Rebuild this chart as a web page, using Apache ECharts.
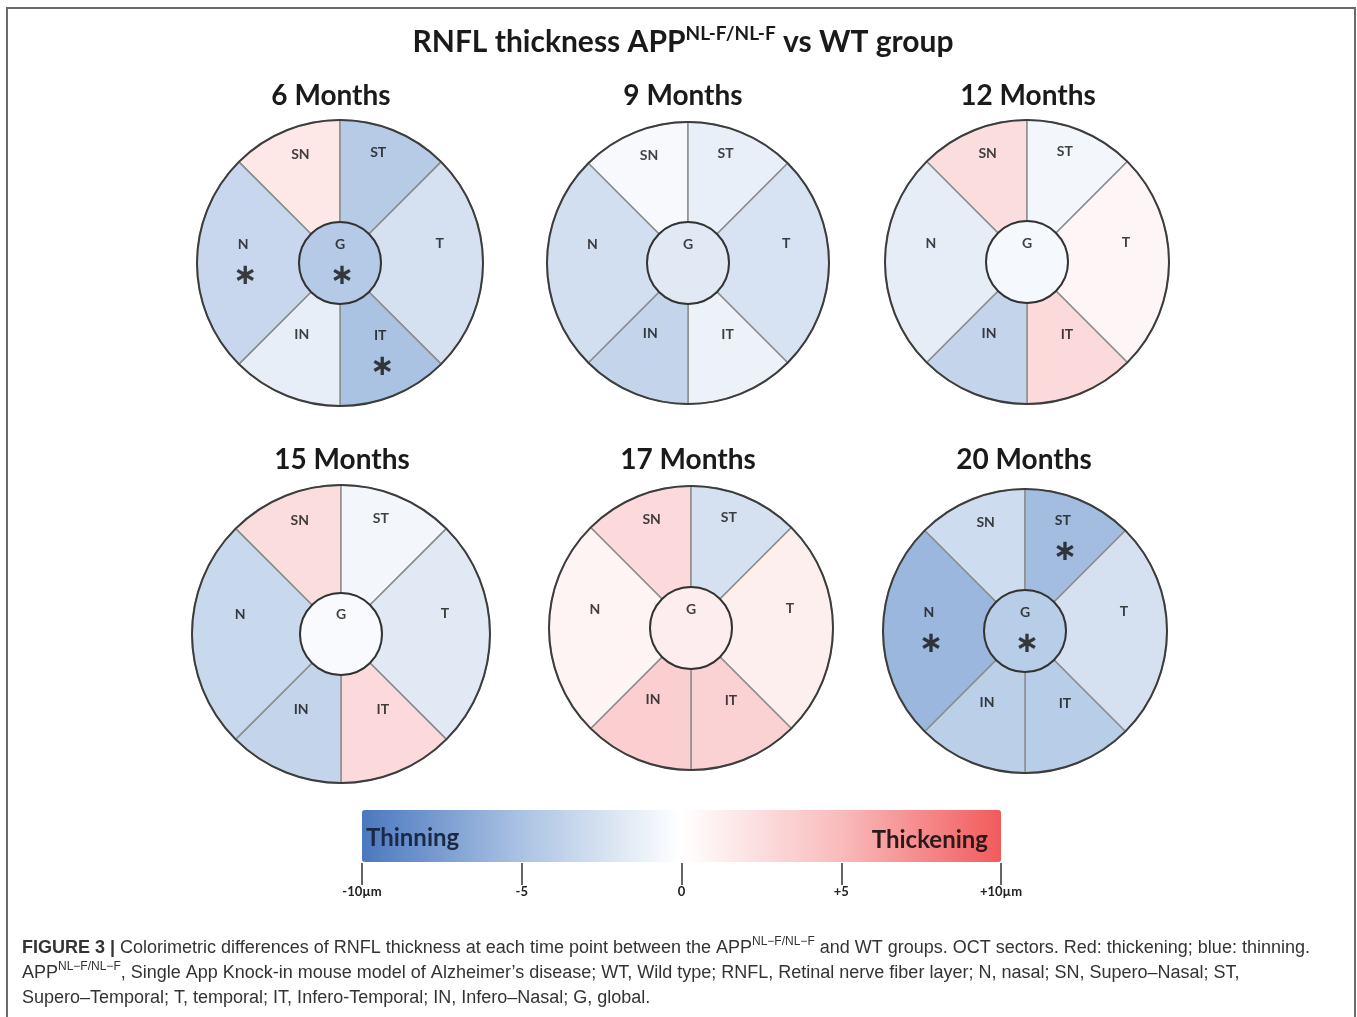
<!DOCTYPE html>
<html>
<head>
<meta charset="utf-8">
<script src="https://cdn.jsdelivr.net/npm/echarts@6/dist/echarts.min.js"></script>
<style>
  html, body { margin: 0; padding: 0; background: #fff; }
  #chart { width: 1357px; height: 1017px; }
</style>
</head>
<body>
<div id="chart"></div>
<script>
// OCT sectors, clockwise from the upper-left
const sectors = ['SN', 'ST', 'T', 'IT', 'IN', 'N'];
const months = ['6 Months', '9 Months', '12 Months', '15 Months', '17 Months', '20 Months'];

// RNFL thickness difference APP vs WT (µm), same order as sectors
const diff6 = [1.8, -4.3, -2.5, -5.0, -1.4, -3.3];
const diff9 = [-0.5, -1.3, -2.4, -1.1, -3.6, -2.7];
const diff12 = [2.5, -0.7, 0.7, 2.7, -3.6, -1.5];
const diff15 = [2.5, -0.7, -1.8, 2.7, -3.6, -3.2];
const diff17 = [2.7, -2.5, 1.2, 3.3, 3.5, 0.8];
const diff20 = [-2.9, -5.4, -2.5, -4.2, -4.0, -5.8];
// global (G) per time point
const globalDiff = [-4.4, -1.8, -0.6, -0.4, 1.3, -4.2];

// significant sectors (asterisk)
const sig6 = ['N', 'IT', 'G'];
const sig9 = [];
const sig12 = [];
const sig15 = [];
const sig17 = [];
const sig20 = ['ST', 'N', 'G'];

const scaleTicks = [-10, -5, 0, 5, 10];
const scaleTickLabels = ['-10µm', '-5', '0', '+5', '+10µm'];

const diffs = [diff6, diff9, diff12, diff15, diff17, diff20];
const sigs = [sig6, sig9, sig12, sig15, sig17, sig20];

// layout
const centers = [[340, 263], [688, 263], [1027, 262], [341, 634], [691, 628], [1025, 631]];
const radii = [143, 141, 142, 149, 142, 142];
const innerR = 41;
const titlePos = [[331, 96], [683, 96], [1028, 96], [342, 460], [688, 460], [1024, 460]];
const span = { SN: 45, ST: 45, T: 90, IT: 45, IN: 45, N: 90 };
// label anchors as [radius fraction, angle in degrees ccw from 3 o'clock]
const labelAt = {
  SN: [0.81, 110], ST: [0.82, 71], T: [0.71, 11], IT: [0.58, 299],
  IN: [0.57, 242], N: [0.69, 169], G: [0.13, 90]
};
const scaleColors = ['#4a78bf', '#abc3e3', '#ffffff', '#f9bbbc', '#f25a5c'];

const FONT = 'Lato';
const chart = echarts.init(document.getElementById('chart'));

const series = [];
const polar = [];
const angleAxis = [];
const radiusAxis = [];
const colored = [];
const title = [];

title.push({
  text: '{m|RNFL thickness APP}{s|NL-F/NL-F}{m| vs WT group}',
  left: 683, top: 42, padding: 0,
  textAlign: 'center', textVerticalAlign: 'middle',
  textStyle: {
    rich: {
      m: { fontFamily: FONT, fontWeight: 'bold', fontSize: 30, color: '#1a1a1a', lineHeight: 36 },
      s: { fontFamily: FONT, fontWeight: 'bold', fontSize: 19, color: '#1a1a1a', lineHeight: 22, verticalAlign: 'top' }
    }
  }
});

months.forEach((m, i) => {
  const center = centers[i];
  title.push({
    text: m, left: titlePos[i][0], top: titlePos[i][1], padding: 0,
    textAlign: 'center', textVerticalAlign: 'middle',
    textStyle: { fontFamily: FONT, fontWeight: 'bold', fontSize: 28, color: '#1a1a1a' }
  });

  colored.push(series.length);
  series.push({
    type: 'pie', center, radius: [innerR, radii[i]],
    startAngle: 135, clockwise: true, silent: true, animation: false,
    label: { show: false }, labelLine: { show: false },
    itemStyle: { borderColor: '#8d8d8d', borderWidth: 1.5 },
    data: sectors.map((s, k) => ({ name: s, value: [span[s], diffs[i][k]] }))
  });

  colored.push(series.length);
  series.push({
    type: 'pie', center, radius: [0, innerR], silent: true, animation: false, z: 3,
    label: { show: false }, labelLine: { show: false },
    itemStyle: { borderColor: '#333', borderWidth: 2 },
    data: [{ name: 'G', value: [360, globalDiff[i]] }]
  });

  // outer rim
  series.push({
    type: 'pie', center, radius: [0, radii[i]], silent: true, animation: false, z: 3,
    label: { show: false }, labelLine: { show: false },
    itemStyle: { color: 'rgba(0,0,0,0)', borderColor: '#3d3d3d', borderWidth: 2 },
    data: [{ name: 'rim', value: 1 }]
  });

  polar.push({ center, radius: radii[i] });
  angleAxis.push({ polarIndex: i, type: 'value', min: 0, max: 360, startAngle: 0, clockwise: false, show: false });
  radiusAxis.push({ polarIndex: i, type: 'value', min: 0, max: 1, show: false });

  series.push({
    type: 'scatter', coordinateSystem: 'polar', polarIndex: i, silent: true, animation: false, z: 5,
    symbolSize: 1, itemStyle: { color: 'rgba(0,0,0,0)' },
    label: {
      show: true, position: 'inside', formatter: p => p.name,
      fontFamily: FONT, fontWeight: 'bold', fontSize: 14, color: '#111'
    },
    data: sectors.concat('G').map(n => ({ name: n, value: labelAt[n] }))
  });

  series.push({
    type: 'scatter', coordinateSystem: 'polar', polarIndex: i, silent: true, animation: false, z: 5,
    symbolSize: 1, itemStyle: { color: 'rgba(0,0,0,0)' },
    label: {
      show: true, position: 'inside', formatter: '∗', offset: [2, 32],
      fontFamily: 'DejaVu Sans', fontWeight: 'bold', fontSize: 29, color: '#111'
    },
    data: sigs[i].map(n => ({ name: n, value: labelAt[n] }))
  });
});

title.push({
  text: 'Thinning', left: 366, top: 838, padding: 0, textAlign: 'left', textVerticalAlign: 'middle',
  textStyle: { fontFamily: FONT, fontWeight: 'bold', fontSize: 24, color: '#1b2a44' }
});
title.push({
  text: 'Thickening', left: 988, top: 840, padding: 0, textAlign: 'right', textVerticalAlign: 'middle',
  textStyle: { fontFamily: FONT, fontWeight: 'bold', fontSize: 24, color: '#2a1a1a' }
});

const sup = 'NL−F/NL−F';
const capStyle = { fontFamily: 'Liberation Sans', fontWeight: 'normal', fontSize: 18, color: '#333', lineHeight: 25 };
title.push({
  text: [
    '{b|FIGURE 3 |} Colorimetric differences of RNFL thickness at each time point between the APP{s|' + sup + '} and WT groups. OCT sectors. Red: thickening; blue: thinning.',
    'APP{s|' + sup + '}, Single App Knock-in mouse model of Alzheimer’s disease; WT, Wild type; RNFL, Retinal nerve fiber layer; N, nasal; SN, Supero–Nasal; ST,',
    'Supero–Temporal; T, temporal; IT, Infero-Temporal; IN, Infero–Nasal; G, global.'
  ].join('\n'),
  left: 22, top: 936, padding: 0,
  textStyle: Object.assign({}, capStyle, {
    rich: {
      b: Object.assign({}, capStyle, { fontWeight: 'bold' }),
      s: Object.assign({}, capStyle, { fontSize: 12, lineHeight: 18, verticalAlign: 'top' })
    }
  })
});

chart.setOption({
  backgroundColor: '#fff',
  animation: false,
  title,
  polar,
  angleAxis,
  radiusAxis,
  grid: { left: 362, width: 639, top: 830, height: 33 },
  xAxis: {
    type: 'value', min: -10, max: 10, interval: 5,
    axisLine: { show: false },
    splitLine: { show: false },
    axisTick: { show: true, length: 22, lineStyle: { color: '#333', width: 1.5 } },
    axisLabel: {
      margin: 22, fontFamily: FONT, fontWeight: 'bold', fontSize: 13, color: '#222',
      formatter: v => scaleTickLabels[scaleTicks.indexOf(v)]
    }
  },
  yAxis: { type: 'value', show: false },
  visualMap: {
    type: 'continuous', min: -10, max: 10, orient: 'horizontal',
    left: 362, top: 810, itemHeight: 639, itemWidth: 52, padding: 0,
    calculable: false, hoverLink: false, text: null, showLabel: false,
    seriesIndex: colored, dimension: 1,
    inRange: { color: scaleColors }
  },
  graphic: [{
    type: 'rect', silent: true,
    shape: { x: 7, y: 8, width: 1348, height: 1030 },
    style: { fill: 'none', stroke: '#6a6a6a', lineWidth: 2 }
  }],
  series
});
</script>
</body>
</html>
